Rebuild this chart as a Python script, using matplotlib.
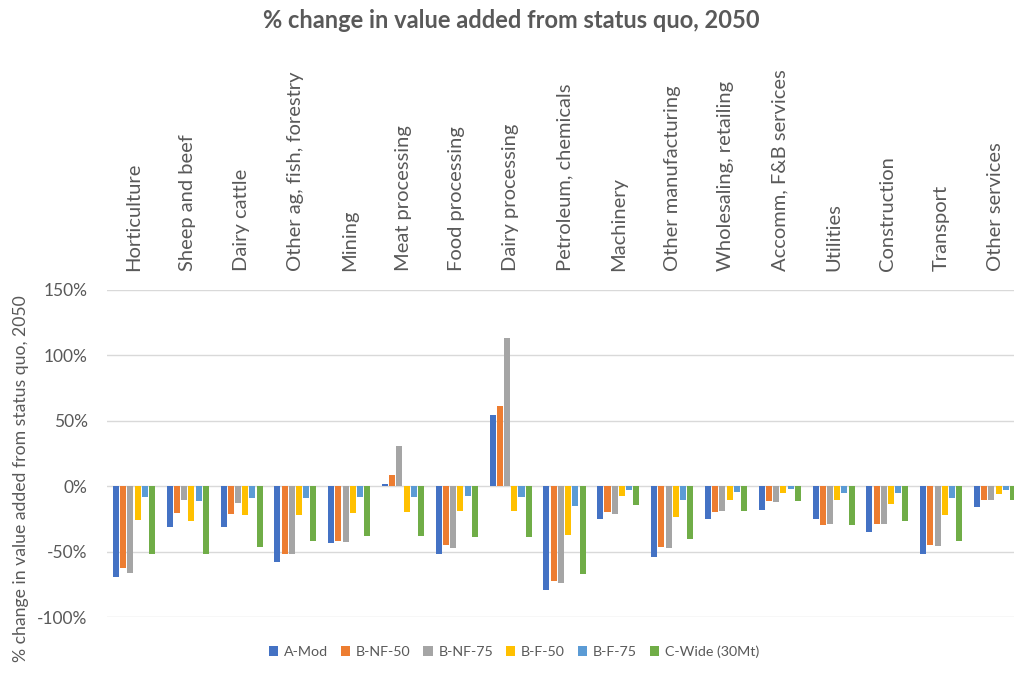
import numpy as np
import matplotlib
matplotlib.use("Agg")
import matplotlib.pyplot as plt

plt.rcParams["font.family"] = ["Lato", "DejaVu Sans"]

categories = ["Horticulture", "Sheep and beef", "Dairy cattle", "Other ag, fish, forestry",
              "Mining", "Meat processing", "Food processing", "Dairy processing",
              "Petroleum, chemicals", "Machinery", "Other manufacturing",
              "Wholesaling, retailing", "Accomm, F&B services", "Utilities",
              "Construction", "Transport", "Other services"]

series_names = ["A-Mod", "B-NF-50", "B-NF-75", "B-F-50", "B-F-75", "C-Wide (30Mt)"]

a_mod = [-69, -31, -31, -57.4, -43.6, 2, -52, 54.6, -79, -24.7, -53.6, -25.2, -18.1, -24.7, -35.2, -52, -16]
b_nf_50 = [-62.5, -20.4, -21.4, -51.5, -41.6, 8.9, -44.9, 61.7, -71.9, -19.4, -46.2, -19.9, -11.5, -29.8, -28.6, -45.1, -10.7]
b_nf_75 = [-66, -10.7, -12.8, -52, -42.3, 31, -46.9, 113.7, -73.7, -21.2, -47.4, -19.1, -12, -29, -28.6, -45.6, -10.7]
b_f_50 = [-25.8, -26.3, -21.9, -21.9, -20.7, -19.9, -19.1, -18.6, -37.5, -7.7, -23.2, -10.7, -5.4, -10.7, -13.3, -21.9, -6.1]
b_f_75 = [-8.2, -11.2, -8.9, -8.7, -8.2, -8.2, -7.7, -8.2, -14.8, -2.8, -10.2, -4.3, -1.8, -4.8, -4.8, -8.9, -2.6]
c_wide = [-52, -51.3, -46, -42, -37.7, -37.7, -39, -38.3, -66.6, -14, -40.3, -18.6, -11, -29.8, -26.5, -41.6, -10.2]

series = [a_mod, b_nf_50, b_nf_75, b_f_50, b_f_75, c_wide]
colors = ["#4472C4", "#ED7D31", "#A5A5A5", "#FFC000", "#5B9BD5", "#70AD47"]

text_color = "#595959"

fig = plt.figure(figsize=(10.14, 6.75), dpi=100)
ax = fig.add_axes([107 / 1014, 57.7 / 675, 915 / 1014, 327.3 / 675])

x = np.arange(len(categories))
pitch = 0.134
width = 0.112
for i, (vals, col, name) in enumerate(zip(series, colors, series_names)):
    ax.bar(x + (i - 2.5) * pitch, vals, width=width, color=col, label=name, zorder=3)

ax.set_xlim(-0.5, len(categories) - 0.5)
ax.set_ylim(-100, 150)
ax.set_yticks([-100, -50, 0, 50, 100, 150])
ax.set_yticklabels(["-100%", "-50%", "0%", "50%", "100%", "150%"])
ax.grid(axis="y", color="#D9D9D9", linewidth=1, zorder=0)

ax.xaxis.tick_top()
ax.set_xticks(x)
ax.set_xticklabels(categories, rotation=90, ha="center", va="bottom")
ax.tick_params(axis="x", length=0, pad=14, labelsize=14.5, labelcolor=text_color)
ax.tick_params(axis="y", length=0, pad=14, labelsize=12.5, labelcolor=text_color)

for s in ax.spines.values():
    s.set_visible(False)

fig.text(21 / 1014, 1 - 295 / 675, "% change in value added from status quo, 2050",
         rotation=90, ha="center", va="top", fontsize=12.7, color=text_color)

fig.suptitle("% change in value added from status quo, 2050", x=511 / 1014, y=1 - 9 / 675,
             va="top", fontsize=17, fontweight="bold", color=text_color)

fig.legend(loc="center", bbox_to_anchor=(514 / 1014, 23 / 675), ncol=6, frameon=False,
           fontsize=10.3, handlelength=0.65, handleheight=0.65, handletextpad=0.4,
           columnspacing=0.9, labelcolor=text_color)

fig.savefig("out.png", dpi=100)
